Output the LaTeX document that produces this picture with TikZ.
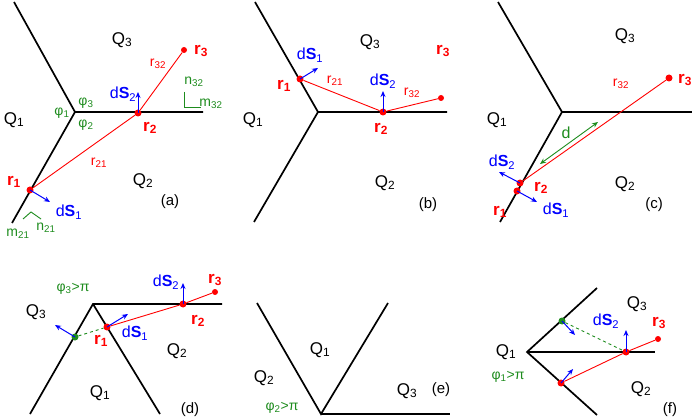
\documentclass[tikz,border=0pt]{standalone}
\usepackage{fontspec}
\setmainfont{Liberation Sans}
\usetikzlibrary{arrows.meta}
\definecolor{gr}{RGB}{30,140,30}
\begin{document}
\begin{tikzpicture}[x=1pt,y=-1pt,
 wall/.style={line width=1.7pt,black},
 ray/.style={red,line width=0.9pt},
 vec/.style={blue,line width=1pt,-{Stealth[length=6pt,width=5pt]}},
 pt/.style={circle,fill=red,inner sep=0pt,minimum size=7pt},
 gpt/.style={circle,fill=gr,inner sep=0pt,minimum size=7pt},
 Q/.style={font=\fontsize{17}{17}\selectfont},
 rl/.style={red,font=\fontsize{17}{17}\selectfont\bfseries},
 sl/.style={font=\fontsize{14}{14}\selectfont},
 ds/.style={blue,font=\fontsize{16}{16}\selectfont},
 captxt/.style={font=\fontsize{15}{15}\selectfont}]
\useasboundingbox (0,0) rectangle (692,419);
% (a)
\coordinate (aj) at (75,112);
\draw[wall] (14,2) -- (aj) -- (203,112);
\draw[wall] (aj) -- (12,223);
\node[pt] (ar1) at (30,190) {};
\node[pt] (ar2) at (138,113) {};
\node[pt,minimum size=6pt] (ar3) at (184,50) {};
\draw[ray] (ar1) -- (ar2) -- (ar3);
\coordinate (adS1) at (50,202); \draw[vec] (ar1.center) -- (adS1);
\coordinate (adS2) at (138,92); \draw[vec] (ar2.center) -- (adS2);
\draw[gr,line width=0.9pt] (184,92) -- (184,107) -- (201,107);
\draw[gr,line width=0.9pt] (23,219) -- (31,212) -- (41,219);
\node[Q] at (122,40) {Q\textsubscript{3}};
\node[Q] at (14,120) {Q\textsubscript{1}};
\node[Q] at (143,181) {Q\textsubscript{2}};
\node[rl] at (14,182) {r\textsubscript{1}};
\node[rl] at (150,128) {r\textsubscript{2}};
\node[rl] at (201,51) {r\textsubscript{3}};
\node[sl,red] at (158,64) {r\textsubscript{32}};
\node[sl,red] at (99,163) {r\textsubscript{21}};
\node[ds] at (123,94) {d\textbf{S}\textsubscript{2}};
\node[ds] at (69,212) {d\textbf{S}\textsubscript{1}};
\node[sl,gr] at (62,113) {φ\textsubscript{1}};
\node[sl,gr] at (86,103) {φ\textsubscript{3}};
\node[sl,gr] at (86,125) {φ\textsubscript{2}};
\node[sl,gr] at (194,82) {n\textsubscript{32}};
\node[sl,gr] at (211,104) {m\textsubscript{32}};
\node[sl,gr] at (18,234) {m\textsubscript{21}};
\node[sl,gr] at (46,228) {n\textsubscript{21}};
\node[captxt] at (170,202) {(a)};
% (b)
\coordinate (bj) at (318,112);
\draw[wall] (255,2) -- (bj) -- (447,112);
\draw[wall] (bj) -- (254,222);
\node[pt] (br1) at (300,79) {};
\node[pt] (br2) at (383,112) {};
\node[pt,minimum size=6pt] (br3) at (441,98) {};
\draw[ray] (br1) -- (br2) -- (br3);
\coordinate (bdS1) at (318,68); \draw[vec] (br1.center) -- (bdS1);
\coordinate (bdS2) at (383,91); \draw[vec] (br2.center) -- (bdS2);
\node[Q] at (370,42) {Q\textsubscript{3}};
\node[Q] at (253,120) {Q\textsubscript{1}};
\node[Q] at (385,183) {Q\textsubscript{2}};
\node[rl] at (443,51) {r\textsubscript{3}};
\node[rl] at (284,86) {r\textsubscript{1}};
\node[rl] at (381,129) {r\textsubscript{2}};
\node[sl,red] at (335,81) {r\textsubscript{21}};
\node[sl,red] at (412,93) {r\textsubscript{32}};
\node[ds] at (310,55) {d\textbf{S}\textsubscript{1}};
\node[ds] at (383,81) {d\textbf{S}\textsubscript{2}};
\node[captxt] at (428,205) {(b)};
% (c)
\coordinate (cj) at (562,112);
\draw[wall] (498,2) -- (cj) -- (692,112);
\draw[wall] (cj) -- (500,222);
\node[pt] (cr3) at (669,78) {};
\node[pt] (cr2) at (520,183) {};
\node[pt] (cr1) at (517,191) {};
\draw[ray] (cr2) -- (cr3);
\coordinate (cd1) at (540,164); \coordinate (cd2) at (598,122);
\draw[gr,line width=0.9pt,{Stealth[length=6pt,width=5pt]}-{Stealth[length=6pt,width=5pt]}] (cd1) -- (cd2);
\coordinate (cdS2) at (499,172); \draw[vec] (cr2.center) -- (cdS2);
\coordinate (cdS1) at (537,202); \draw[vec] (cr1.center) -- (cdS1);
\node[gr,font=\fontsize{16}{16}\selectfont] at (566,133) {d};
\node[sl,red] at (621,84) {r\textsubscript{32}};
\node[Q] at (625,36) {Q\textsubscript{3}};
\node[Q] at (497,120) {Q\textsubscript{1}};
\node[Q] at (625,184) {Q\textsubscript{2}};
\node[rl] at (685,80) {r\textsubscript{3}};
\node[rl] at (500,212) {r\textsubscript{1}};
\node[rl] at (541,188) {r\textsubscript{2}};
\node[ds] at (502,162) {d\textbf{S}\textsubscript{2}};
\node[ds] at (556,210) {d\textbf{S}\textsubscript{1}};
\node[captxt] at (654,205) {(c)};
% (d)
\coordinate (dj) at (93,304);
\draw[wall] (30,414) -- (dj) -- (222,304);
\draw[wall] (dj) -- (160,414);
\node[pt] (dr1) at (107,327) {};
\node[gpt] (dg) at (75,337) {};
\node[pt] (dr2) at (183,304) {};
\node[pt,minimum size=6pt] (dr3) at (215,292) {};
\draw[ray] (dr1) -- (dr2) -- (dr3);
\draw[gr,line width=0.9pt,dashed] (dg) -- (dr1);
\coordinate (ddS1) at (128,314); \draw[vec] (dr1.center) -- (ddS1);
\coordinate (ddg) at (55,325); \draw[vec] (dg.center) -- (ddg);
\coordinate (ddS2) at (183,283); \draw[vec] (dr2.center) -- (ddS2);
\node[sl,gr] at (73,289) {φ\textsubscript{3}>π};
\node[Q] at (36,312) {Q\textsubscript{3}};
\node[Q] at (100,393) {Q\textsubscript{1}};
\node[Q] at (177,351) {Q\textsubscript{2}};
\node[rl] at (101,341) {r\textsubscript{1}};
\node[rl] at (198,321) {r\textsubscript{2}};
\node[rl] at (215,280) {r\textsubscript{3}};
\node[ds] at (135,333) {d\textbf{S}\textsubscript{1}};
\node[ds] at (166,282) {d\textbf{S}\textsubscript{2}};
\node[captxt] at (190,410) {(d)};
% (e)
\coordinate (ej) at (321,414);
\draw[wall] (257,303) -- (ej) -- (388,303);
\draw[wall] (ej) -- (450,414);
\node[Q] at (320,350) {Q\textsubscript{1}};
\node[Q] at (264,378) {Q\textsubscript{2}};
\node[Q] at (407,391) {Q\textsubscript{3}};
\node[sl,gr] at (282,408) {φ\textsubscript{2}>π};
\node[captxt] at (441,390) {(e)};
% (f)
\coordinate (fj) at (527,352);
\draw[wall] (597,288) -- (fj) -- (597,415);
\draw[wall] (fj) -- (655,352);
\node[gpt] (fg) at (562,321) {};
\node[pt] (fr1) at (561,383) {};
\node[pt] (fr2) at (626,352) {};
\node[pt,minimum size=6pt] (fr3) at (658,339) {};
\draw[ray] (fr1) -- (fr2) -- (fr3);
\draw[gr,line width=0.9pt,dashed] (fg) -- (fr2);
\coordinate (fdS2) at (626,330); \draw[vec] (fr2.center) -- (fdS2);
\coordinate (fdg) at (575,335); \draw[vec] (fg.center) -- (fdg);
\coordinate (fdr) at (573,369); \draw[vec] (fr1.center) -- (fdr);
\node[Q] at (506,352) {Q\textsubscript{1}};
\node[sl,gr] at (508,377) {φ\textsubscript{1}>π};
\node[Q] at (637,304) {Q\textsubscript{3}};
\node[Q] at (641,389) {Q\textsubscript{2}};
\node[ds] at (606,321) {d\textbf{S}\textsubscript{2}};
\node[rl] at (659,323) {r\textsubscript{3}};
\node[captxt] at (670,410) {(f)};
\end{tikzpicture}
\end{document}
